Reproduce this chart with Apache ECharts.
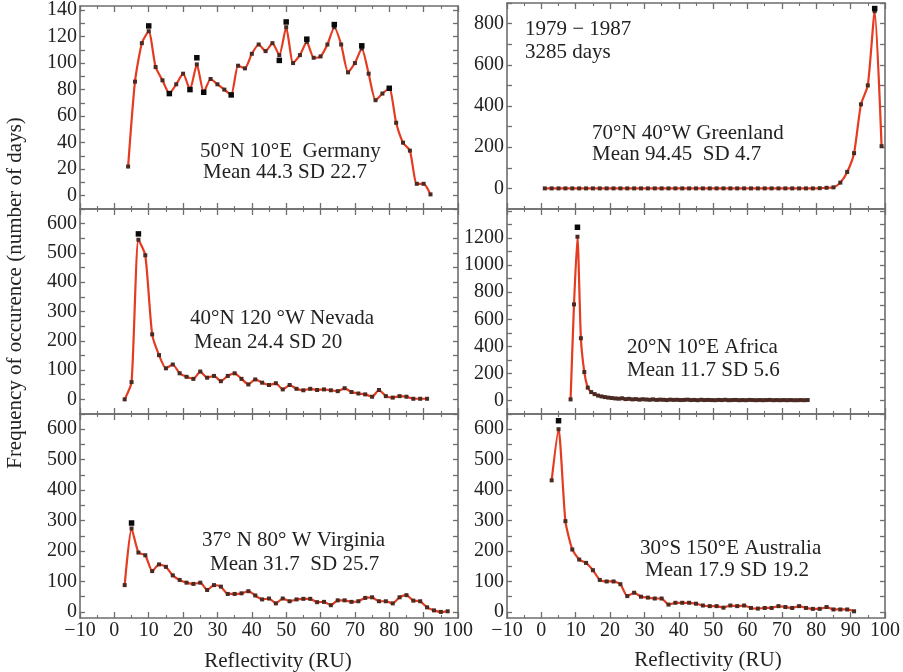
<!DOCTYPE html>
<html>
<head>
<meta charset="utf-8">
<script src="https://cdn.jsdelivr.net/npm/echarts@6/dist/echarts.min.js"></script>
<style>
  html, body { margin: 0; padding: 0; background: #fff; }
  #chart { width: 903px; height: 672px; }
</style>
</head>
<body>
<div id="chart"></div>
<script>
// Reflectivity bins (RU) and daily frequency counts, 1979-1987, six sites.

// 50N 10E Germany
const germanyX = [4,6,8,10,12,14,16,18,20,22,24,26,28,30,32,34,36,38,40,42,44,46,48,50,52,54,56,58,60,62,64,66,68,70,72,74,76,78,80,82,84,86,88,90,92];
const germanyCounts = [22,86,115,124,97,87,77,84,92,80,99,78,88,84,80,76,98,96,107,114,109,115,106,127,100,106,116,104,105,114,127,114,93,100,111,92,72,77,81,55,40,34,9,9,1];
const germanyPeaks = [[10,128],[24,104],[48,102],[50,131],[56,118],[64,129],[72,113],[80,81],[22,80],[26,78],[16,77],[34,76]];

// 70N 40W Greenland
const greenlandX = [1,3,5,7,9,11,13,15,17,19,21,23,25,27,29,31,33,35,37,39,41,43,45,47,49,51,53,55,57,59,61,63,65,67,69,71,73,75,77,79,81,83,85,87,89,91,93,95,97,99];
const greenlandCounts = [0,0,0,0,0,0,0,0,0,0,0,0,0,0,0,0,0,0,0,0,0,0,0,0,0,0,0,0,0,0,0,0,0,0,0,0,0,0,0,0,1,3,5,28,80,171,408,500,860,205];
const greenlandPeaks = [[97,873]];

// 40N 120W Nevada
const nevadaX = [3,5,7,9,11,13,15,17,19,21,23,25,27,29,31,33,35,37,39,41,43,45,47,49,51,53,55,57,59,61,63,65,67,69,71,73,75,77,79,81,83,85,87,89,91];
const nevadaCounts = [0,59,545,492,222,151,106,119,89,77,70,95,74,80,62,80,89,70,51,68,57,49,55,34,49,36,31,36,32,34,31,28,38,25,20,17,9,32,11,6,11,9,2,2,2];
const nevadaPeaks = [[7,565]];

// 20N 10E Africa
const africaX = [8.5,9.5,10.5,11.5,12.5,13.5,14.5,15.5,16.5,17.5,18.5,19.5,20.5,21.5,22.5,23.5,24.5,25.5,26.5,27.5,28.5,29.5,30.5,31.5,32.5,33.5,34.5,35.5,36.5,37.5,38.5,39.5,40.5,41.5,42.5,43.5,44.5,45.5,46.5,47.5,48.5,49.5,50.5,51.5,52.5,53.5,54.5,55.5,56.5,57.5,58.5,59.5,60.5,61.5,62.5,63.5,64.5,65.5,66.5,67.5,68.5,69.5,70.5,71.5,72.5,73.5,74.5,75.5,76.5,77.5];
const africaCounts = [8,710,1210,460,210,95,62,47,36,30,25,21,18,15,13,16,10,12,8,10,6,9,7,5,8,4,6,5,3,6,4,5,3,4,6,3,4,2,5,3,4,3,2,4,3,5,2,3,4,2,3,2,4,3,2,3,2,3,4,2,3,2,3,2,3,2,2,3,2,3];
const africaPeaks = [[10.5,1280]];

// 37N 80W Virginia
const virginiaX = [3,5,7,9,11,13,15,17,19,21,23,25,27,29,31,33,35,37,39,41,43,45,47,49,51,53,55,57,59,61,63,65,67,69,71,73,75,77,79,81,83,85,87,89,91,93,95,97];
const virginiaCounts = [88,274,195,186,134,156,148,120,105,96,92,96,72,88,83,59,59,61,68,54,41,44,28,44,35,41,43,43,32,33,22,38,38,33,35,46,48,35,35,28,48,55,37,35,15,5,0,2];
const virginiaPeaks = [[5,292]];

// 30S 150E Australia
const australiaX = [3,5,7,9,11,13,15,17,19,21,23,25,27,29,31,33,35,37,39,41,43,45,47,49,51,53,55,57,59,61,63,65,67,69,71,73,75,77,79,81,83,85,87,89,91];
const australiaCounts = [432,600,298,205,172,161,137,105,100,100,91,52,63,50,47,44,44,24,30,30,30,27,21,19,19,14,21,19,21,13,11,13,13,19,16,13,19,13,10,10,16,8,8,8,2];
const australiaPeaks = [[5,628]];

// Y-axis tick labels per panel
const germanyTicks = [0,20,40,60,80,100,120,140];
const greenlandTicks = [0,200,400,600,800];
const nevadaTicks = [0,100,200,300,400,500,600];
const africaTicks = [0,200,400,600,800,1000,1200];
const virginiaTicks = [0,100,200,300,400,500,600];
const australiaTicks = [0,100,200,300,400,500,600];

const xTickLabels = [-10,0,10,20,30,40,50,60,70,80,90,100];

const FONT = 'Liberation Serif';
const FRAME = '#6e6e6e';
const TEXT = '#222';
const LINE = '#e53b20';
const DOT = '#4a2a22';

const panels = [
  { x: germanyX, y: germanyCounts, peaks: germanyPeaks, labels: germanyTicks, minor: 10, min: -10, max: 143, left: 80, top: 3, height: 206, showX: false },
  { x: greenlandX, y: greenlandCounts, peaks: greenlandPeaks, labels: greenlandTicks, minor: 100, min: -100, max: 900, left: 507, top: 3, height: 206, showX: false },
  { x: nevadaX, y: nevadaCounts, peaks: nevadaPeaks, labels: nevadaTicks, minor: 50, min: -50, max: 650, left: 80, top: 209, height: 205, showX: false },
  { x: africaX, y: africaCounts, peaks: africaPeaks, labels: africaTicks, minor: 100, min: -100, max: 1415, left: 507, top: 209, height: 205, showX: false },
  { x: virginiaX, y: virginiaCounts, peaks: virginiaPeaks, labels: virginiaTicks, minor: 50, min: -20, max: 650, left: 80, top: 414, height: 204, showX: true },
  { x: australiaX, y: australiaCounts, peaks: australiaPeaks, labels: australiaTicks, minor: 50, min: -20, max: 650, left: 507, top: 414, height: 204, showX: true }
];

function stepValues(from, to, step) {
  const out = [];
  for (let v = from; v <= to + 1e-9; v += step) out.push(v);
  return out;
}

const grids = [], xAxes = [], yAxes = [], series = [];

panels.forEach((p, i) => {
  grids.push({ left: p.left, top: p.top, width: 378, height: p.height, containLabel: false });

  const xCommon = {
    type: 'value', gridIndex: i, min: -10, max: 100, interval: 10,
    axisLine: { show: true, onZero: false, lineStyle: { color: FRAME, width: 1.6 } },
    axisTick: { show: true, inside: true, length: 6, lineStyle: { color: FRAME, width: 1.3 } },
    minorTick: { show: true, splitNumber: 2, length: 3, lineStyle: { color: FRAME, width: 1.1 } },
    splitLine: { show: false }, minorSplitLine: { show: false }
  };
  xAxes.push(Object.assign({}, xCommon, {
    position: 'bottom',
    axisLabel: {
      show: p.showX, customValues: xTickLabels, margin: 3,
      fontFamily: FONT, fontSize: 20, color: TEXT,
      formatter: v => (v < 0 ? '\u2212' + Math.abs(v) : String(v))
    }
  }));
  xAxes.push(Object.assign({}, xCommon, { position: 'top', axisLabel: { show: false } }));

  const tickVals = stepValues(0, p.max, p.minor);
  const yCommon = {
    type: 'value', gridIndex: i, min: p.min, max: p.max,
    axisLine: { show: true, onZero: false, lineStyle: { color: FRAME, width: 1.6 } },
    axisTick: { show: true, inside: true, length: 5, customValues: tickVals, lineStyle: { color: FRAME, width: 1.3 } },
    splitLine: { show: false }
  };
  yAxes.push(Object.assign({}, yCommon, {
    position: 'left',
    axisLabel: {
      show: true, customValues: p.labels, margin: 3,
      fontFamily: FONT, fontSize: 20, color: TEXT,
      formatter: v => String(v)
    }
  }));
  yAxes.push(Object.assign({}, yCommon, { position: 'right', axisLabel: { show: false } }));

  series.push({
    type: 'line', xAxisIndex: 2 * i, yAxisIndex: 2 * i,
    data: p.x.map((x, k) => [x, p.y[k]]),
    smooth: 0.2, showAllSymbol: true,
    symbol: 'rect', symbolSize: 4,
    itemStyle: { color: DOT },
    lineStyle: { color: LINE, width: 2.2 },
    animation: false, silent: true, z: 2
  });
  series.push({
    type: 'scatter', xAxisIndex: 2 * i, yAxisIndex: 2 * i,
    data: p.peaks, symbol: 'rect', symbolSize: 5.5,
    itemStyle: { color: '#0a0a0a', opacity: 1 },
    animation: false, silent: true, z: 3
  });
});

function label(text, x, y, extra) {
  return Object.assign({
    type: 'text', x: x, y: y,
    style: { text: text, font: '21px "' + FONT + '"', fill: TEXT, verticalAlign: 'middle', align: 'left' }
  }, extra || {});
}

const graphics = [
  label('50\u00b0N 10\u00b0E  Germany', 200, 151),
  label('Mean 44.3 SD 22.7', 203, 172),
  label('1979 \u2212 1987', 525, 29),
  label('3285 days', 525, 52),
  label('70\u00b0N 40\u00b0W Greenland', 592, 133),
  label('Mean 94.45  SD 4.7', 592, 154),
  label('40\u00b0N 120 \u00b0W Nevada', 190, 318),
  label('Mean 24.4 SD 20', 194, 342),
  label('20\u00b0N 10\u00b0E Africa', 627, 347),
  label('Mean 11.7 SD 5.6', 627, 370),
  label('37\u00b0 N 80\u00b0 W Virginia', 202, 540),
  label('Mean 31.7  SD 25.7', 210, 564),
  label('30\u00b0S 150\u00b0E Australia', 640, 548),
  label('Mean 17.9 SD 19.2', 645, 570),
  { type: 'text', x: 278, y: 661, style: { text: 'Reflectivity (RU)', font: '21px "' + FONT + '"', fill: TEXT, align: 'center', verticalAlign: 'middle' } },
  { type: 'text', x: 708, y: 660, style: { text: 'Reflectivity (RU)', font: '21px "' + FONT + '"', fill: TEXT, align: 'center', verticalAlign: 'middle' } },
  { type: 'text', x: 15, y: 293, rotation: Math.PI / 2, style: { text: 'Frequency of occurence (number of days)', font: '21px "' + FONT + '"', fill: TEXT, align: 'center', verticalAlign: 'middle' } }
];

const chart = echarts.init(document.getElementById('chart'), null, { renderer: 'canvas' });
chart.setOption({
  backgroundColor: '#fff',
  animation: false,
  grid: grids,
  xAxis: xAxes,
  yAxis: yAxes,
  series: series,
  graphic: graphics
});
</script>
</body>
</html>
